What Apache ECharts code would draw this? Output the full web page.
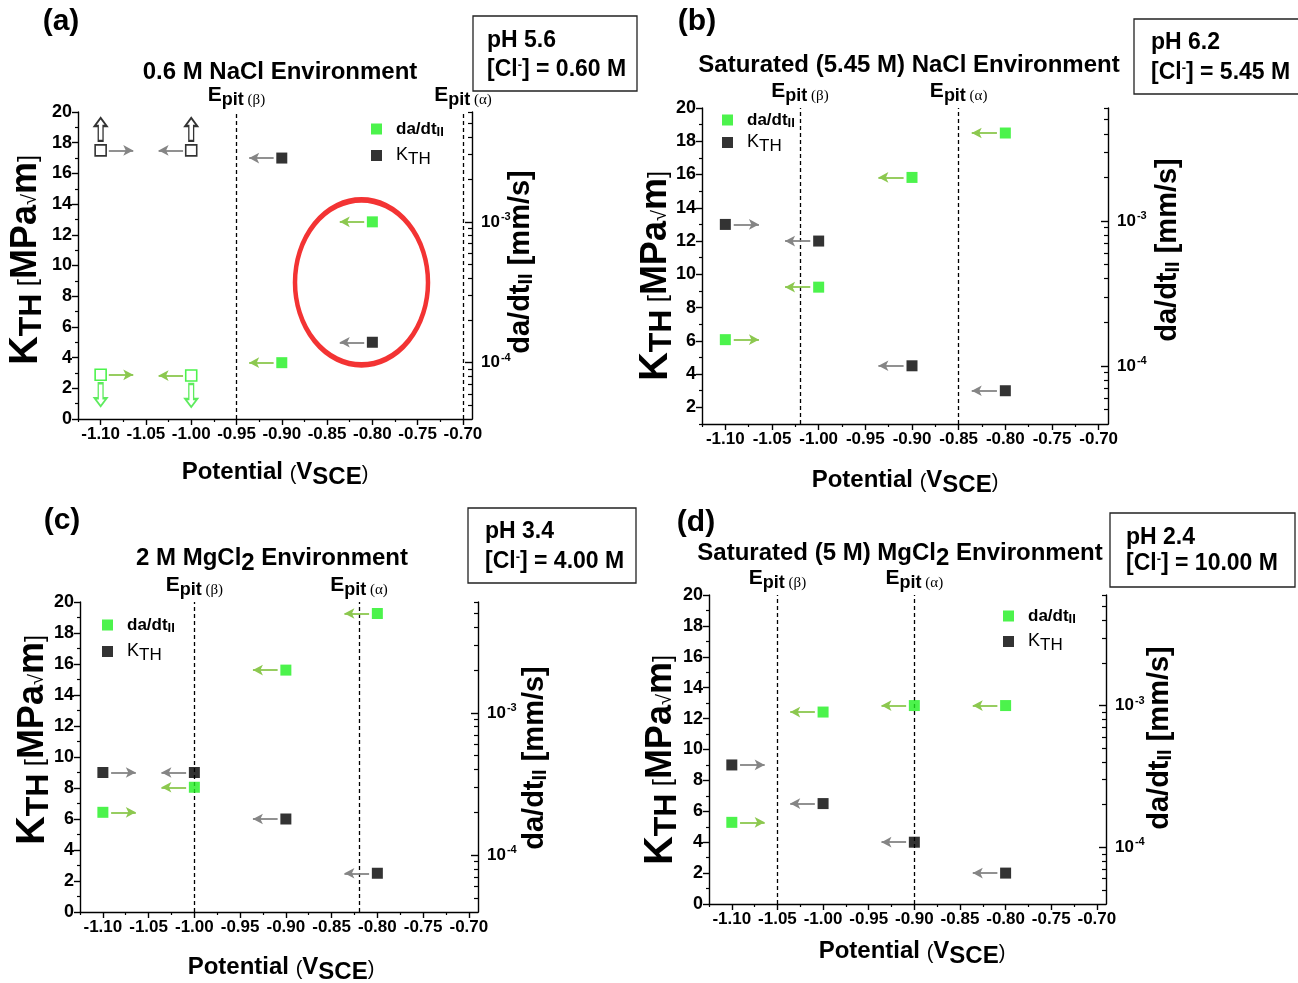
<!DOCTYPE html>
<html>
<head>
<meta charset="utf-8">
<script src="https://cdn.jsdelivr.net/npm/echarts@6/dist/echarts.min.js"></script>
<style>
html, body { margin: 0; padding: 0; background: #fff; }
#chart { width: 1298px; height: 983px; }
</style>
</head>
<body>
<div id="chart"></div>
<script>
// applied potentials (V vs SCE), same four for every environment
var potentials = [-1.10, -1.00, -0.90, -0.80];
// +1 arrow points to more noble potentials, -1 to more active ones
var arrowDir = [1, -1, -1, -1];

// (a) 0.6 M NaCl
var kthA = [17.5, 17.5, 17.0, 5.0];
var dadtA = [8.2e-5, 8.1e-5, 1.0e-4, 1.0e-3];
var openA = [true, true, false, false];
var epitA = [-0.95, -0.70];
var circledA = [-0.812, 8.9];

// (b) saturated NaCl
var kthB = [13.0, 12.0, 4.5, 3.0];
var dadtB = [1.52e-4, 3.5e-4, 2.0e-3, 4.05e-3];
var epitB = [-1.02, -0.85];

// (c) 2 M MgCl2
var kthC = [9.0, 9.0, 6.0, 2.5];
var dadtC = [2.0e-4, 3.0e-4, 2.0e-3, 5.0e-3];
var epitC = [-1.00, -0.82];

// (d) saturated MgCl2
var kthD = [9.0, 6.5, 4.0, 2.0];
var dadtD = [1.5e-4, 9.0e-4, 1.0e-3, 1.0e-3];
var epitD = [-1.05, -0.90];

// ticks
var xTicks = [-1.10, -1.05, -1.00, -0.95, -0.90, -0.85, -0.80, -0.75, -0.70];
var xMinor = [-1.125, -1.075, -1.025, -0.975, -0.925, -0.875, -0.825, -0.775, -0.725];
var kthTicks = [0, 2, 4, 6, 8, 10, 12, 14, 16, 18, 20];
var kthTicksB = [2, 4, 6, 8, 10, 12, 14, 16, 18, 20];
var kthMinor = [1, 3, 5, 7, 9, 11, 13, 15, 17, 19];
var rateTicks = [1e-4, 1e-3];
var rateMinor = [5e-5, 6e-5, 7e-5, 8e-5, 9e-5, 2e-4, 3e-4, 4e-4, 5e-4, 6e-4, 7e-4, 8e-4, 9e-4,
                 2e-3, 3e-3, 4e-3, 5e-3, 6e-3];

var F = '"Liberation Sans", Arial, sans-serif';
var GREEN = '#1ff01f';

var panels = [
  { tag: '(a)', kth: kthA, dadt: dadtA, open: openA, epit: epitA, kMin: 0, kTicks: kthTicks,
    grid: { left: 78, top: 112, width: 394, height: 307 },
    leg: { left: 371, top: 119, gap: 4 },
    label: [61, 22], title: [280, 72], titleText: '{t|0.6 M NaCl Environment}',
    box: [473, 16, 164, 75], boxText: [487, 41, 70], ph: 'pH 5.6', cl: '0.60 M',
    xTitle: [275, 472], kTitle: [26, 260], rTitle: [521, 262] },
  { tag: '(b)', kth: kthB, dadt: dadtB, open: null, epit: epitB, kMin: 1, kTicks: kthTicksB,
    grid: { left: 702, top: 108, width: 406, height: 316 },
    leg: { left: 722, top: 110, gap: 0 },
    label: [697, 22], title: [909, 65], titleText: '{t|Saturated (5.45 M) NaCl Environment}',
    box: [1134, 19, 170, 75], boxText: [1151, 43, 73], ph: 'pH 6.2', cl: '5.45 M',
    xTitle: [905, 480], kTitle: [656, 276], rTitle: [1168, 250] },
  { tag: '(c)', kth: kthC, dadt: dadtC, open: null, epit: epitC, kMin: 0, kTicks: kthTicks,
    grid: { left: 80, top: 602, width: 398, height: 310 },
    leg: { left: 102, top: 615, gap: 4 },
    label: [62, 521], title: [272, 558], titleText: '{t|2 M MgCl}{s|2}{t| Environment}',
    box: [468, 508, 168, 75], boxText: [485, 532, 562], ph: 'pH 3.4', cl: '4.00 M',
    xTitle: [281, 967], kTitle: [33, 740], rTitle: [535, 758] },
  { tag: '(d)', kth: kthD, dadt: dadtD, open: null, epit: epitD, kMin: 0, kTicks: kthTicks,
    grid: { left: 709, top: 595, width: 397, height: 309 },
    leg: { left: 1003, top: 606, gap: 3 },
    label: [696, 523], title: [900, 553], titleText: '{t|Saturated (5 M) MgCl}{s|2}{t| Environment}',
    box: [1110, 513, 185, 74], boxText: [1126, 538, 564], ph: 'pH 2.4', cl: '10.00 M',
    xTitle: [912, 951], kTitle: [661, 760], rTitle: [1160, 738] }
];

var black = { color: '#000' };
function lg(v) { return Math.log10(v); }

var grids = [], xAxes = [], yAxes = [], series = [], legends = [], graphics = [];

function text(x, y, str, rich, rot, align) {
  return {
    type: 'text', x: x, y: y, rotation: rot || 0, silent: true,
    style: { text: str, rich: rich, align: align || 'center', verticalAlign: 'middle',
             textAlign: align || 'center', textVerticalAlign: 'middle', fill: '#000' }
  };
}
function tk(size, weight, pad, fam) {
  return { fontSize: size, fontWeight: weight || 'bold', fontFamily: fam || F,
           fill: '#000', color: '#000', padding: pad || [0, 0, 0, 0] };
}

panels.forEach(function (p, g) {
  grids.push(Object.assign({ containLabel: false, outerBoundsMode: 'none' }, p.grid));

  // x: major + minor
  xAxes.push({
    type: 'value', gridIndex: g, position: 'bottom', min: -1.125, max: -0.69,
    axisLine: { show: true, onZero: false, lineStyle: { color: '#000', width: 1.4 } },
    axisTick: { show: true, customValues: xTicks, length: 6, lineStyle: { color: '#000', width: 1.4 } },
    axisLabel: { show: true, customValues: xTicks, margin: 7, color: '#000', fontFamily: F,
                 fontWeight: 'bold', fontSize: 17, formatter: function (v) { return v.toFixed(2); } },
    splitLine: { show: false }
  });
  xAxes.push({
    type: 'value', gridIndex: g, position: 'bottom', min: -1.125, max: -0.69,
    axisLine: { show: false }, axisLabel: { show: false }, splitLine: { show: false },
    axisTick: { show: true, customValues: xMinor, length: 3, lineStyle: { color: '#000', width: 1.2 } }
  });

  // left K_TH axis: major + minor
  yAxes.push({
    type: 'value', gridIndex: g, position: 'left', min: p.kMin, max: 20,
    axisLine: { show: true, onZero: false, lineStyle: { color: '#000', width: 1.4 } },
    axisTick: { show: true, customValues: p.kTicks, length: 6, lineStyle: { color: '#000', width: 1.4 } },
    axisLabel: { show: true, customValues: p.kTicks, margin: 6, color: '#000', fontFamily: F,
                 fontWeight: 'bold', fontSize: 18 },
    splitLine: { show: false }
  });
  yAxes.push({
    type: 'value', gridIndex: g, position: 'left', min: p.kMin, max: 20,
    axisLine: { show: false }, axisLabel: { show: false }, splitLine: { show: false },
    axisTick: { show: true, customValues: kthMinor, length: 3, lineStyle: { color: '#000', width: 1.2 } }
  });

  // right da/dt axis, log10 scale: major + minor
  yAxes.push({
    type: 'value', gridIndex: g, position: 'right', min: -4.40, max: -2.22,
    axisLine: { show: true, onZero: false, lineStyle: { color: '#000', width: 1.4 } },
    axisTick: { show: true, inside: true, customValues: rateTicks.map(lg), length: 7,
                lineStyle: { color: '#000', width: 1.4 } },
    axisLabel: { show: true, customValues: rateTicks.map(lg), margin: 9, color: '#000',
                 formatter: function (v) { return '{b|10}{e|' + Math.round(v) + '}'; },
                 rich: { b: tk(17), e: tk(11, 'bold', [0, 0, 10, 1]) } },
    splitLine: { show: false }
  });
  yAxes.push({
    type: 'value', gridIndex: g, position: 'right', min: -4.40, max: -2.22,
    axisLine: { show: false }, axisLabel: { show: false }, splitLine: { show: false },
    axisTick: { show: true, inside: true, customValues: rateMinor.map(lg), length: 4,
                lineStyle: { color: '#000', width: 1.2 } }
  });

  var xi = 2 * g, yk = 4 * g, yr = 4 * g + 2;
  var open = p.open || [false, false, false, false];

  // dashed pitting potentials
  series.push({
    type: 'scatter', name: 'epit' + g, xAxisIndex: xi, yAxisIndex: yk, data: [], silent: true,
    markLine: {
      silent: true, symbol: ['none', 'none'], animation: false,
      lineStyle: { color: '#000', width: 1.3, type: [4, 3] },
      label: {
        show: true, position: 'end', distance: 3,
        formatter: function (q) { return '{e|E}{p|pit}{g| (' + q.name + ')}'; },
        rich: { e: tk(21, 'bold', [0, 0, 0, 0]), p: tk(18, 'bold', [10, 0, 0, 0]),
                g: tk(15, 'normal', [11, 0, 0, 0], 'serif') }
      },
      emphasis: { disabled: true },
      data: [{ xAxis: p.epit[0], name: '\u03b2' }, { xAxis: p.epit[1], name: '\u03b1' }]
    }
  });

  // K_TH points
  series.push({
    type: 'scatter', name: 'KTH', xAxisIndex: xi, yAxisIndex: yk, symbol: 'rect', symbolSize: 11,
    itemStyle: black, z: 5,
    data: potentials.map(function (x, i) {
      return open[i] ? { value: [x, p.kth[i]], itemStyle: { color: '#fff', borderColor: '#000', borderWidth: 1.6 } }
                     : [x, p.kth[i]];
    }),
    markLine: {
      silent: true, symbol: ['none', 'arrow'], symbolSize: [8, 10], animation: false,
      lineStyle: { color: '#858585', width: 1.8, type: 'solid' }, label: { show: false },
      emphasis: { disabled: true },
      data: potentials.map(function (x, i) {
        return [{ coord: [x + arrowDir[i] * 0.009, p.kth[i]] }, { coord: [x + arrowDir[i] * 0.036, p.kth[i]] }];
      })
    }
  });

  // da/dt points on the right axis
  series.push({
    type: 'scatter', name: 'da/dt', xAxisIndex: xi, yAxisIndex: yr, symbol: 'rect', symbolSize: 11,
    itemStyle: { color: GREEN }, z: 5,
    data: potentials.map(function (x, i) {
      return open[i] ? { value: [x, lg(p.dadt[i])], itemStyle: { color: '#fff', borderColor: GREEN, borderWidth: 1.6 } }
                     : [x, lg(p.dadt[i])];
    }),
    markLine: {
      silent: true, symbol: ['none', 'arrow'], symbolSize: [8, 10], animation: false,
      lineStyle: { color: '#8cc84f', width: 1.8, type: 'solid' }, label: { show: false },
      emphasis: { disabled: true },
      data: potentials.map(function (x, i) {
        var y = lg(p.dadt[i]);
        return [{ coord: [x + arrowDir[i] * 0.009, y] }, { coord: [x + arrowDir[i] * 0.036, y] }];
      })
    }
  });

  // run-out limit arrows (hollow)
  if (p.open) {
    var ko = [], ro = [];
    potentials.forEach(function (x, i) {
      if (open[i]) { ko.push([x, p.kth[i]]); ro.push([x, lg(p.dadt[i])]); }
    });
    series.push({
      type: 'scatter', name: 'kLimit', xAxisIndex: xi, yAxisIndex: yk, silent: true, z: 4,
      symbol: 'path://M5,0 L10,7 L7,7 L7,20 L3,20 L3,7 L0,7 Z', symbolSize: [12, 23], symbolOffset: [0, -21],
      itemStyle: { color: '#fff', borderColor: '#000', borderWidth: 1.8 }, data: ko
    });
    series.push({
      type: 'scatter', name: 'rLimit', xAxisIndex: xi, yAxisIndex: yr, silent: true, z: 4,
      symbol: 'path://M3,0 L7,0 L7,13 L10,13 L5,20 L0,13 L3,13 Z', symbolSize: [12, 23], symbolOffset: [0, 20],
      itemStyle: { color: '#fff', borderColor: '#36e636', borderWidth: 1.8 }, data: ro
    });
    // red ellipse around the -0.80 V pair
    series.push({
      type: 'scatter', name: 'circled', xAxisIndex: xi, yAxisIndex: yk, silent: true, z: 2,
      symbol: 'circle', symbolSize: [133, 165],
      itemStyle: { color: 'rgba(0,0,0,0)', borderColor: '#f00000', borderWidth: 5 },
      data: [circledA]
    });
  }

  legends.push({
    data: ['da/dt', 'KTH'], orient: 'vertical', left: p.leg.left, top: p.leg.top, padding: 0,
    itemWidth: 11, itemHeight: 11, itemGap: p.leg.gap, icon: 'rect', selectedMode: false,
    formatter: function (n) { return n === 'da/dt' ? '{d|da/dt}{s|II}' : '{k|K}{t|TH}'; },
    textStyle: {
      rich: {
        d: Object.assign(tk(17, 'bold', [0, 0, 0, 9]), { lineHeight: 16 }),
        s: Object.assign(tk(13, 'bold', [7, 0, 0, 0]), { lineHeight: 12 }),
        k: Object.assign(tk(18, 'normal', [0, 0, 0, 9]), { lineHeight: 16 }),
        t: Object.assign(tk(17, 'normal', [8, 0, 0, 0]), { lineHeight: 15 })
      }
    }
  });

  // texts
  graphics.push(text(p.label[0], p.label[1], '{a|' + p.tag + '}', { a: tk(30) }));
  graphics.push(text(p.title[0], p.title[1], p.titleText,
    { t: tk(24), s: tk(24, 'bold', [10, 0, 0, 0]) }));
  graphics.push({
    type: 'rect', silent: true, shape: { x: p.box[0], y: p.box[1], width: p.box[2], height: p.box[3] },
    style: { fill: '#fff', stroke: '#222', lineWidth: 1.3 }
  });
  graphics.push(text(p.boxText[0], p.boxText[1], '{a|' + p.ph + '}', { a: tk(23) }, 0, 'left'));
  graphics.push(text(p.boxText[0], p.boxText[2], '{a|[Cl}{u|-}{a|] = ' + p.cl + '}',
    { a: tk(23), u: tk(13, 'bold', [0, 0, 10, 0]) }, 0, 'left'));
  graphics.push(text(p.xTitle[0], p.xTitle[1], '{p|Potential }{o|(}{p|V}{s|SCE}{o|)}',
    { p: tk(24), o: tk(20, 'normal', [4, 0, 0, 0]), s: tk(24, 'bold', [10, 0, 0, 0]) }));
  graphics.push(text(p.kTitle[0], p.kTitle[1], '{k|K}{t|TH}{b| [}{m|MPa}{r|\u221a}{m|m}{b|]}',
    { k: tk(40), t: tk(32, 'bold', [12, 0, 0, 0]), b: tk(26, 'normal', [6, 0, 0, 0]),
      m: tk(36), r: tk(20, 'normal', [8, 0, 0, 0]) }, Math.PI / 2));
  graphics.push(text(p.rTitle[0], p.rTitle[1], '{d|da/dt}{s|II}{d| [mm/s]}',
    { d: tk(29), s: tk(20, 'bold', [11, 0, 0, 0]) }, Math.PI / 2));
});

var chart = echarts.init(document.getElementById('chart'));
chart.setOption({
  animation: false,
  backgroundColor: '#fff',
  grid: grids,
  xAxis: xAxes,
  yAxis: yAxes,
  legend: legends,
  series: series,
  graphic: graphics
});
</script>
</body>
</html>
